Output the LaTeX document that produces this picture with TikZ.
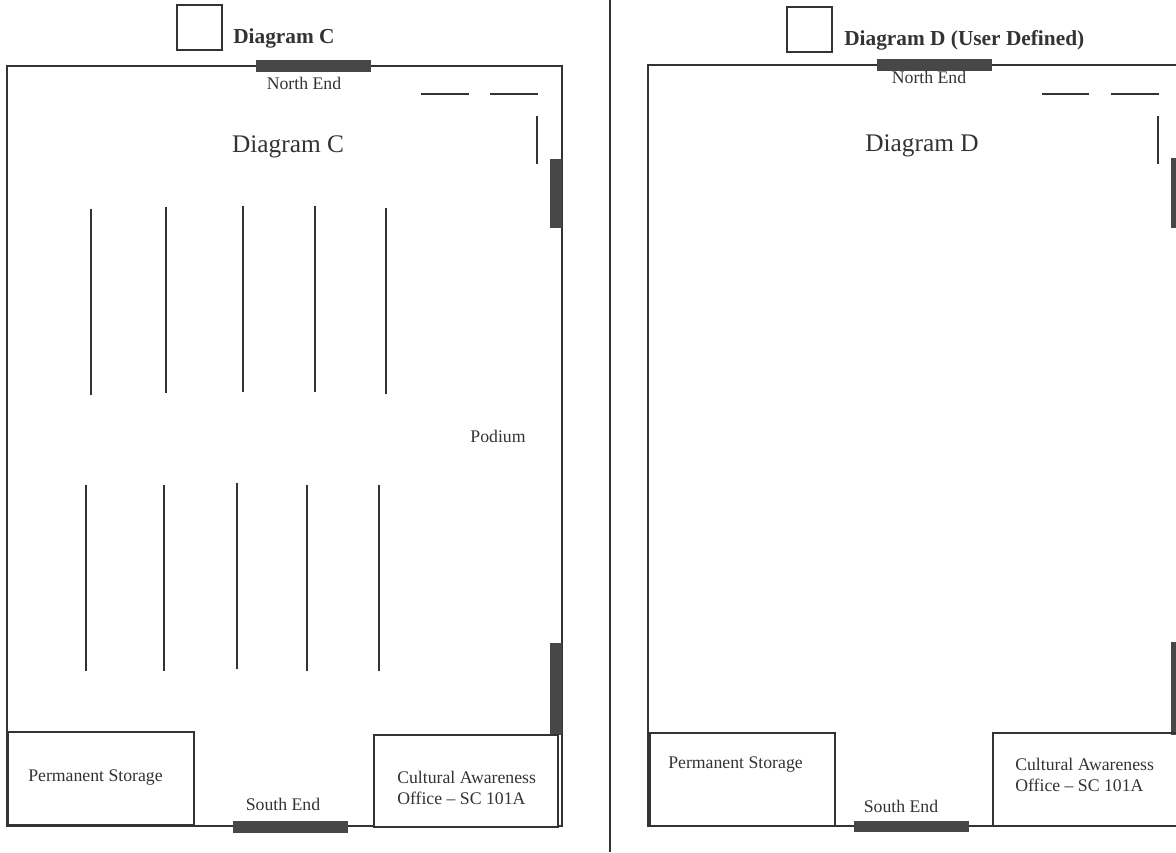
\documentclass[tikz,border=0pt]{standalone}
\usepackage{fontspec}
\setmainfont{Liberation Serif}
\definecolor{ink}{HTML}{333333}
\tikzset{
	wall/.style={ink,line width=1.5pt},
	row/.style={ink,line width=1pt},
	door/.style={fill=ink!90,draw=none},
	small/.style={text=ink,font=\fontsize{13.3}{16}\selectfont,inner sep=0pt},
	head/.style={text=ink,font=\fontsize{19}{23}\selectfont,inner sep=0pt},
	tick/.style={text=ink,font=\bfseries\fontsize{16}{20}\selectfont,inner sep=0pt,anchor=west}
}
\begin{document}
\begin{tikzpicture}[x=0.75pt,y=-0.75pt]
	\useasboundingbox (0,0) rectangle (1176,852);
	\draw[ink,line width=1.3pt] (610,0) -- (610,852);

	% Diagram C
	\draw[wall] (7,66) rectangle (561.5,826);
	\draw[wall] (177,5.5) rectangle (221.5,50);
	\node[tick] (titleC) at (233,38) {Diagram C};
	\node[head] (nameC) at (288,146.5) {Diagram C};
	\fill[door] (256,60.5) rectangle (371,72);
	\fill[door] (549.5,159) rectangle (562,228);
	\fill[door] (549.5,643) rectangle (562,735);
	\fill[door] (233,821) rectangle (348,833);
	\node[small] (northC) at (304,83) {North End};
	\node[small] (southC) at (283,804) {South End};
	\node[small] (podiumC) at (498,436) {Podium};
	\draw[wall,fill=white] (8,732) rectangle (194,825);
	\draw[wall,fill=white] (374,735) rectangle (558,827);
	\node[small] (storeC) at (95.5,778) {Permanent Storage};
	\node[small,align=left,anchor=west] (officeC) at (397,788) {Cultural Awareness\\Office -- SC 101A};
	\draw[row] (421,94) -- (469,94);
	\draw[row] (490,94) -- (538,94);
	\draw[row] (537,116.5) -- (537,164);
	\foreach \x/\y in {91/209,166/207,243/206,315/206,386/208,86/485,164/485,237/483,307/485,379/485}
		\draw[row] (\x,\y) -- ++(0,186);

	% Diagram D
	\draw[wall] (1176,65) -- (648,65) -- (648,826) -- (1176,826);
	\draw[wall] (786.5,7) rectangle (831.5,52);
	\node[tick] (titleD) at (844,40) {Diagram D (User Defined)};
	\node[head] (nameD) at (922,145.5) {Diagram D};
	\fill[door] (877,59.5) rectangle (992,71);
	\fill[door] (1171,158) rectangle (1176,228);
	\fill[door] (1171,642) rectangle (1176,735);
	\fill[door] (854,821) rectangle (969,832);
	\node[small] (northD) at (929,77) {North End};
	\node[small] (southD) at (901,806) {South End};
	\draw[wall] (650,733) rectangle (835,826);
	\draw[wall] (1176,733) -- (993,733) -- (993,826);
	\node[small] (storeD) at (735.5,765) {Permanent Storage};
	\node[small,align=left,anchor=west] (officeD) at (1015,775) {Cultural Awareness\\Office -- SC 101A};
	\draw[row] (1042,94) -- (1089,94);
	\draw[row] (1111,94) -- (1159,94);
	\draw[row] (1158,116.5) -- (1158,164);
\end{tikzpicture}
\end{document}
